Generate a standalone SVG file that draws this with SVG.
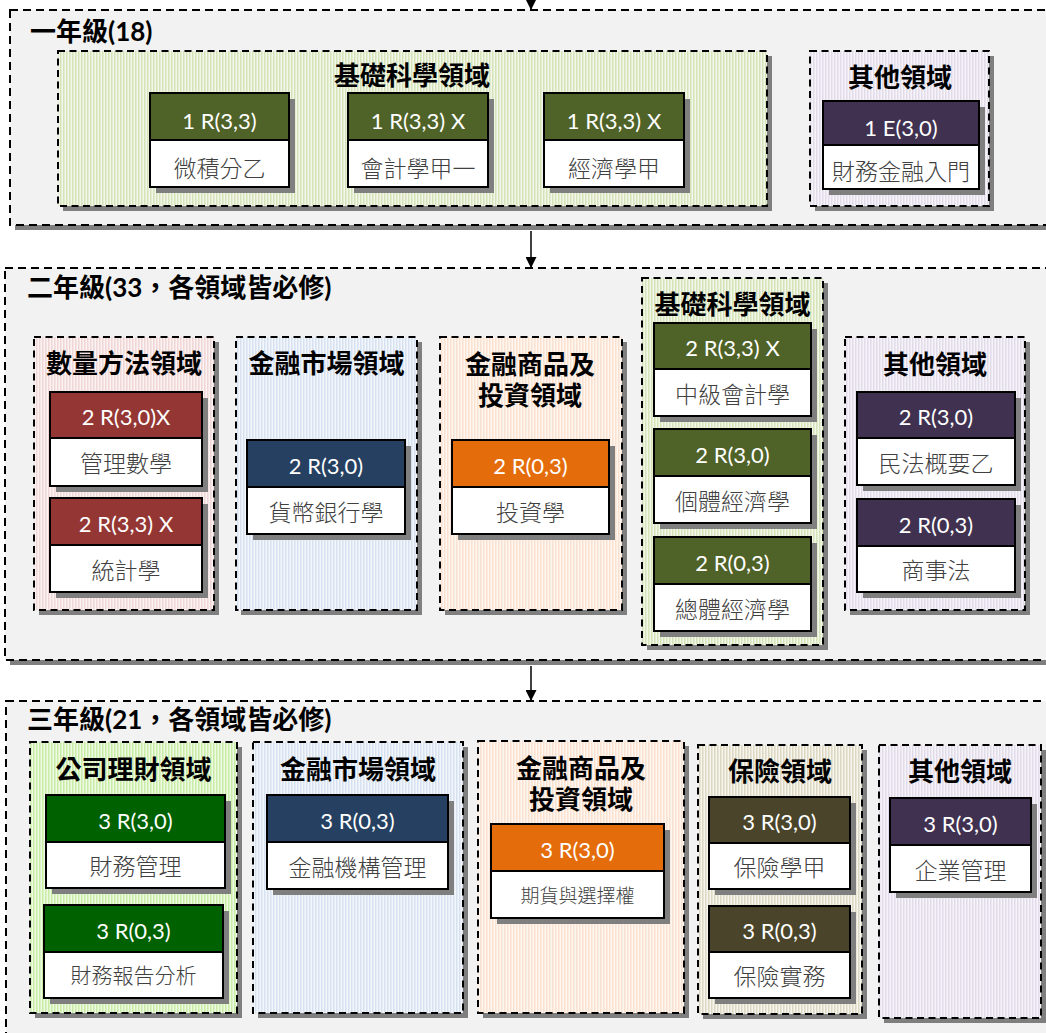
<svg xmlns="http://www.w3.org/2000/svg" width="1046" height="1033" viewBox="0 0 1046 1033">
<defs>
<style>
.cont{fill:#f2f2f2;stroke:#000;stroke-width:2;stroke-dasharray:8 5}
.sh{fill:#7f7f7f}
.area{stroke:#000;stroke-width:2;stroke-dasharray:7 4.5}
.bd{fill:#fff;stroke:#000;stroke-width:2}
.hd{stroke:#000;stroke-width:2}
.ht{font-family:Lato,"Noto Sans CJK TC",sans-serif;font-size:22px;fill:#fff;text-anchor:middle}
.bt{font-family:"Noto Sans CJK TC",sans-serif;font-size:23px;font-weight:300;fill:#404040;text-anchor:middle}
.at{font-family:Lato,"Noto Sans CJK TC",sans-serif;font-size:26px;font-weight:bold;fill:#000;text-anchor:middle}
.yt{font-family:Lato,"Noto Sans CJK TC",sans-serif;font-size:26px;font-weight:bold;fill:#000}
.conn{stroke:#000;stroke-width:1.5;fill:none}
.c-bs{fill:#4f6228}.c-ot{fill:#403151}.c-qm{fill:#943634}.c-mk{fill:#254061}.c-pr{fill:#e46c0a}.c-cf{fill:#006100}.c-in{fill:#4a452a}
</style>
<marker id="arr" viewBox="0 0 10 10" refX="10" refY="5" markerWidth="11" markerHeight="11" markerUnits="userSpaceOnUse" orient="auto">
<path d="M0,0 L10,5 L0,10 z" fill="#000"/>
</marker>
<pattern id="p-bs" patternUnits="userSpaceOnUse" width="3" height="10"><rect width="3" height="10" fill="#f3f7ea"/><rect width="1.5" height="10" fill="#d5e3b9"/></pattern>
<pattern id="p-ot" patternUnits="userSpaceOnUse" width="3" height="10"><rect width="3" height="10" fill="#f6f4f9"/><rect width="1.5" height="10" fill="#e2dcea"/></pattern>
<pattern id="p-qm" patternUnits="userSpaceOnUse" width="3" height="10"><rect width="3" height="10" fill="#fbf3f3"/><rect width="1.5" height="10" fill="#f0d6d5"/></pattern>
<pattern id="p-mk" patternUnits="userSpaceOnUse" width="3" height="10"><rect width="3" height="10" fill="#f3f6fb"/><rect width="1.5" height="10" fill="#d7e2f0"/></pattern>
<pattern id="p-pr" patternUnits="userSpaceOnUse" width="3" height="10"><rect width="3" height="10" fill="#fef6f0"/><rect width="1.5" height="10" fill="#fbe1cf"/></pattern>
<pattern id="p-cf" patternUnits="userSpaceOnUse" width="3" height="10"><rect width="3" height="10" fill="#eefae2"/><rect width="1.5" height="10" fill="#c9eda6"/></pattern>
<pattern id="p-in" patternUnits="userSpaceOnUse" width="3" height="10"><rect width="3" height="10" fill="#f6f5ef"/><rect width="1.5" height="10" fill="#dcd8c2"/></pattern>
</defs>
<rect width="1046" height="1033" fill="#fff"/>

<!-- Year containers -->
<g id="year1">
<rect class="sh" x="15" y="15" width="1050" height="215"/>
<rect class="cont" x="10" y="10" width="1050" height="215"/>
<text class="yt" x="30" y="41">一年級(18)</text>
</g>
<g id="year2">
<rect class="sh" x="10" y="273" width="1050" height="392"/>
<rect class="cont" x="5" y="268" width="1050" height="392"/>
<text class="yt" x="27" y="296.5">二年級(33，各領域皆必修)</text>
</g>
<g id="year3">
<rect class="sh" x="11" y="706" width="1050" height="400"/>
<rect class="cont" x="6" y="701" width="1050" height="400"/>
<text class="yt" x="27" y="729">三年級(21，各領域皆必修)</text>
</g>

<!-- Connectors -->
<g id="connectors">
<line class="conn" x1="531" y1="-5" x2="531" y2="10" marker-end="url(#arr)"/>
<line class="conn" x1="531" y1="231" x2="531" y2="268" marker-end="url(#arr)"/>
<line class="conn" x1="531" y1="666" x2="531" y2="701" marker-end="url(#arr)"/>
</g>

<!-- Year 1 areas -->
<g id="y1-basic">
<rect class="sh" x="63" y="56" width="709" height="155"/>
<rect class="area" x="58" y="51" width="709" height="155" fill="url(#p-bs)"/>
<text class="at" x="412" y="85">基礎科學領域</text>
</g>
<g id="y1-c1">
<rect class="sh" x="156" y="99" width="139" height="94"/>
<rect class="bd" x="150" y="93" width="139" height="94"/>
<rect class="hd c-bs" x="150" y="93" width="139" height="47"/>
<text class="ht" x="219.5" y="129">1 R(3,3)</text>
<text class="bt" x="219.5" y="176.5">微積分乙</text>
</g>
<g id="y1-c2">
<rect class="sh" x="354" y="99" width="140" height="94"/>
<rect class="bd" x="348" y="93" width="140" height="94"/>
<rect class="hd c-bs" x="348" y="93" width="140" height="47"/>
<text class="ht" x="418" y="129">1 R(3,3) X</text>
<text class="bt" x="418" y="176.5">會計學甲一</text>
</g>
<g id="y1-c3">
<rect class="sh" x="550" y="99" width="140" height="94"/>
<rect class="bd" x="544" y="93" width="140" height="94"/>
<rect class="hd c-bs" x="544" y="93" width="140" height="47"/>
<text class="ht" x="614" y="129">1 R(3,3) X</text>
<text class="bt" x="614" y="176.5">經濟學甲</text>
</g>
<g id="y1-other">
<rect class="sh" x="815" y="56" width="179" height="155"/>
<rect class="area" x="810" y="51" width="179" height="155" fill="url(#p-ot)"/>
<text class="at" x="900" y="86.5">其他領域</text>
</g>
<g id="y1-c4">
<rect class="sh" x="829" y="107" width="156" height="88"/>
<rect class="bd" x="823" y="101" width="156" height="88"/>
<rect class="hd c-ot" x="823" y="101" width="156" height="44"/>
<text class="ht" x="901" y="135.5">1 E(3,0)</text>
<text class="bt" x="901" y="180">財務金融入門</text>
</g>

<!-- Year 2 areas -->
<g id="y2-quant">
<rect class="sh" x="39" y="342" width="180" height="273"/>
<rect class="area" x="34" y="337" width="180" height="273" fill="url(#p-qm)"/>
<text class="at" x="124" y="372.5">數量方法領域</text>
</g>
<g id="y2-c1">
<rect class="sh" x="56" y="398" width="152" height="94"/>
<rect class="bd" x="50" y="392" width="152" height="94"/>
<rect class="hd c-qm" x="50" y="392" width="152" height="46"/>
<text class="ht" x="126" y="425">2 R(3,0)X</text>
<text class="bt" x="126" y="472">管理數學</text>
</g>
<g id="y2-c2">
<rect class="sh" x="56" y="504" width="152" height="94"/>
<rect class="bd" x="50" y="498" width="152" height="94"/>
<rect class="hd c-qm" x="50" y="498" width="152" height="47"/>
<text class="ht" x="126" y="531.5">2 R(3,3) X</text>
<text class="bt" x="126" y="578.5">統計學</text>
</g>
<g id="y2-market">
<rect class="sh" x="241" y="342" width="181" height="273"/>
<rect class="area" x="236" y="337" width="181" height="273" fill="url(#p-mk)"/>
<text class="at" x="326.5" y="372.5">金融市場領域</text>
</g>
<g id="y2-c3">
<rect class="sh" x="253" y="446" width="158" height="94"/>
<rect class="bd" x="247" y="440" width="158" height="94"/>
<rect class="hd c-mk" x="247" y="440" width="158" height="47"/>
<text class="ht" x="326" y="473.5">2 R(3,0)</text>
<text class="bt" x="326" y="520.5">貨幣銀行學</text>
</g>
<g id="y2-products">
<rect class="sh" x="445" y="342" width="182" height="273"/>
<rect class="area" x="440" y="337" width="182" height="273" fill="url(#p-pr)"/>
<text class="at" x="530" y="373.5">金融商品及</text>
<text class="at" x="530" y="405">投資領域</text>
</g>
<g id="y2-c4">
<rect class="sh" x="458" y="446" width="157" height="94"/>
<rect class="bd" x="452" y="440" width="157" height="94"/>
<rect class="hd c-pr" x="452" y="440" width="157" height="47"/>
<text class="ht" x="530.5" y="473.5">2 R(0,3)</text>
<text class="bt" x="530.5" y="520.5">投資學</text>
</g>
<g id="y2-basic">
<rect class="sh" x="647" y="283" width="181" height="367"/>
<rect class="area" x="642" y="278" width="181" height="367" fill="url(#p-bs)"/>
<text class="at" x="732.5" y="313.5">基礎科學領域</text>
</g>
<g id="y2-c5">
<rect class="sh" x="660" y="329" width="157" height="93"/>
<rect class="bd" x="654" y="323" width="157" height="93"/>
<rect class="hd c-bs" x="654" y="323" width="157" height="46"/>
<text class="ht" x="732.5" y="356">2 R(3,3) X</text>
<text class="bt" x="732.5" y="402.5">中級會計學</text>
</g>
<g id="y2-c6">
<rect class="sh" x="660" y="435" width="157" height="94"/>
<rect class="bd" x="654" y="429" width="157" height="94"/>
<rect class="hd c-bs" x="654" y="429" width="157" height="47"/>
<text class="ht" x="732.5" y="462.5">2 R(3,0)</text>
<text class="bt" x="732.5" y="509.5">個體經濟學</text>
</g>
<g id="y2-c7">
<rect class="sh" x="660" y="543" width="157" height="94"/>
<rect class="bd" x="654" y="537" width="157" height="94"/>
<rect class="hd c-bs" x="654" y="537" width="157" height="47"/>
<text class="ht" x="732.5" y="570.5">2 R(0,3)</text>
<text class="bt" x="732.5" y="617.5">總體經濟學</text>
</g>
<g id="y2-other">
<rect class="sh" x="850" y="342" width="180" height="273"/>
<rect class="area" x="845" y="337" width="180" height="273" fill="url(#p-ot)"/>
<text class="at" x="935" y="374">其他領域</text>
</g>
<g id="y2-c8">
<rect class="sh" x="863" y="398" width="158" height="93"/>
<rect class="bd" x="857" y="392" width="158" height="93"/>
<rect class="hd c-ot" x="857" y="392" width="158" height="46"/>
<text class="ht" x="936" y="425">2 R(3,0)</text>
<text class="bt" x="936" y="471.5">民法概要乙</text>
</g>
<g id="y2-c9">
<rect class="sh" x="863" y="505" width="158" height="93"/>
<rect class="bd" x="857" y="499" width="158" height="93"/>
<rect class="hd c-ot" x="857" y="499" width="158" height="47"/>
<text class="ht" x="936" y="532.5">2 R(0,3)</text>
<text class="bt" x="936" y="579">商事法</text>
</g>

<!-- Year 3 areas -->
<g id="y3-corp">
<rect class="sh" x="35" y="747" width="207" height="271"/>
<rect class="area" x="30" y="742" width="207" height="271" fill="url(#p-cf)"/>
<text class="at" x="133.5" y="779">公司理財領域</text>
</g>
<g id="y3-c1">
<rect class="sh" x="52" y="801" width="179" height="93"/>
<rect class="bd" x="46" y="795" width="179" height="93"/>
<rect class="hd c-cf" x="46" y="795" width="179" height="47"/>
<text class="ht" x="135.5" y="828.5">3 R(3,0)</text>
<text class="bt" x="135.5" y="875">財務管理</text>
</g>
<g id="y3-c2">
<rect class="sh" x="50" y="911" width="179" height="93"/>
<rect class="bd" x="44" y="905" width="179" height="93"/>
<rect class="hd c-cf" x="44" y="905" width="179" height="47"/>
<text class="ht" x="133.5" y="938.5">3 R(0,3)</text>
<text class="bt" x="133.5" y="983" style="font-size:21px">財務報告分析</text>
</g>
<g id="y3-market">
<rect class="sh" x="258" y="747" width="210" height="271"/>
<rect class="area" x="253" y="742" width="210" height="271" fill="url(#p-mk)"/>
<text class="at" x="358" y="779">金融市場領域</text>
</g>
<g id="y3-c3">
<rect class="sh" x="273" y="801" width="181" height="94"/>
<rect class="bd" x="267" y="795" width="181" height="94"/>
<rect class="hd c-mk" x="267" y="795" width="181" height="47"/>
<text class="ht" x="357.5" y="828.5">3 R(0,3)</text>
<text class="bt" x="357.5" y="875.5">金融機構管理</text>
</g>
<g id="y3-products">
<rect class="sh" x="483" y="746" width="206" height="272"/>
<rect class="area" x="478" y="741" width="206" height="272" fill="url(#p-pr)"/>
<text class="at" x="581" y="778">金融商品及</text>
<text class="at" x="581" y="809">投資領域</text>
</g>
<g id="y3-c4">
<rect class="sh" x="497" y="830" width="173" height="94"/>
<rect class="bd" x="491" y="824" width="173" height="94"/>
<rect class="hd c-pr" x="491" y="824" width="173" height="47"/>
<text class="ht" x="577.5" y="857.5">3 R(3,0)</text>
<text class="bt" x="577.5" y="903" style="font-size:19px">期貨與選擇權</text>
</g>
<g id="y3-insurance">
<rect class="sh" x="703" y="750" width="164" height="269"/>
<rect class="area" x="698" y="745" width="164" height="269" fill="url(#p-in)"/>
<text class="at" x="780" y="781">保險領域</text>
</g>
<g id="y3-c5">
<rect class="sh" x="715" y="803" width="141" height="92"/>
<rect class="bd" x="709" y="797" width="141" height="92"/>
<rect class="hd c-in" x="709" y="797" width="141" height="46"/>
<text class="ht" x="779.5" y="830">3 R(3,0)</text>
<text class="bt" x="779.5" y="876">保險學甲</text>
</g>
<g id="y3-c6">
<rect class="sh" x="715" y="912" width="141" height="92"/>
<rect class="bd" x="709" y="906" width="141" height="92"/>
<rect class="hd c-in" x="709" y="906" width="141" height="46"/>
<text class="ht" x="779.5" y="939">3 R(0,3)</text>
<text class="bt" x="779.5" y="985">保險實務</text>
</g>
<g id="y3-other">
<rect class="sh" x="884" y="750" width="162" height="273"/>
<rect class="area" x="879" y="745" width="162" height="273" fill="url(#p-ot)"/>
<text class="at" x="960" y="781">其他領域</text>
</g>
<g id="y3-c7">
<rect class="sh" x="896" y="804" width="141" height="94"/>
<rect class="bd" x="890" y="798" width="141" height="94"/>
<rect class="hd c-ot" x="890" y="798" width="141" height="47"/>
<text class="ht" x="960.5" y="831.5">3 R(3,0)</text>
<text class="bt" x="960.5" y="878.5">企業管理</text>
</g>
</svg>
